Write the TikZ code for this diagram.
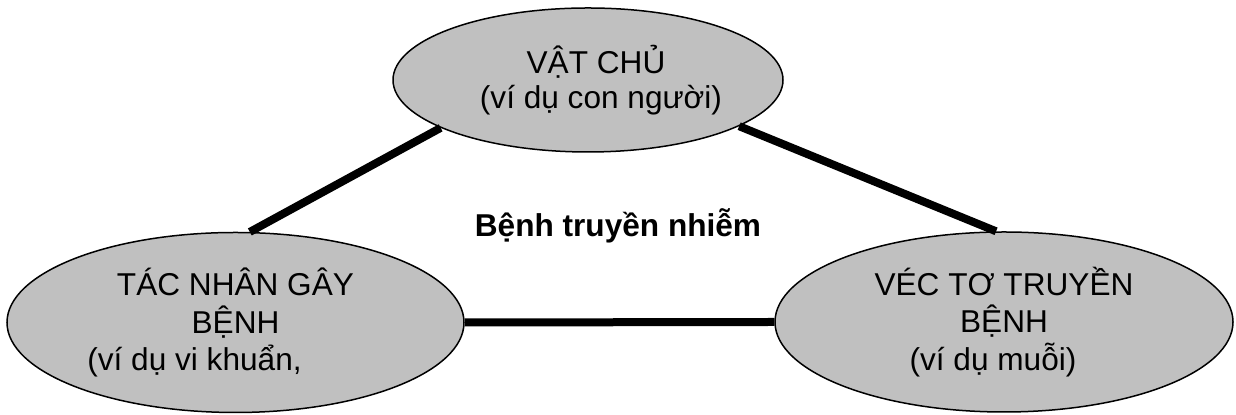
\documentclass[tikz,border=0pt]{standalone}
\usepackage{fontspec}
\setmainfont{Liberation Sans}
\usepackage{xcolor}
\usetikzlibrary{shapes.geometric}
\definecolor{ovalgray}{RGB}{192,192,192}
\tikzset{oval/.style={draw, ellipse, fill=ovalgray, line width=0.75pt, inner sep=0pt, align=center, font=\fontsize{15.8}{18.8}\selectfont},
  link/.style={line width=4pt}}

\begin{document}
\begin{tikzpicture}[x=0.5pt, y=0.5pt]
    \useasboundingbox (0, 0) rectangle (1236, 415);
    \node[oval, minimum width=195pt, minimum height=72pt] at (588, 335) (host) {\hspace*{8pt}VẬT CHỦ\\[-1pt]\hspace*{13pt}(ví dụ con người)};
    \node[oval, minimum width=228.5pt, minimum height=90pt] at (235.5, 92.5) (agent) {TÁC NHÂN GÂY\\BỆNH\\(ví dụ vi khuẩn,\hspace*{41pt}};
    \node[oval, minimum width=229pt, minimum height=90pt] at (1004, 93) (vector) {VÉC TƠ TRUYỀN\\BỆNH\\(ví dụ muỗi)\hspace*{11pt}};

    \node[font=\bfseries\fontsize{15.8}{18.8}\selectfont, anchor=base] at (618, 178) (disease) {Bệnh truyền nhiễm};

    \draw[link] (host.198.7) -- (agent.81);
    \draw[link] (host.343.8) -- (vector.95.5);
    \draw[link] (agent.east) -- (vector.west);
\end{tikzpicture}
\end{document}
